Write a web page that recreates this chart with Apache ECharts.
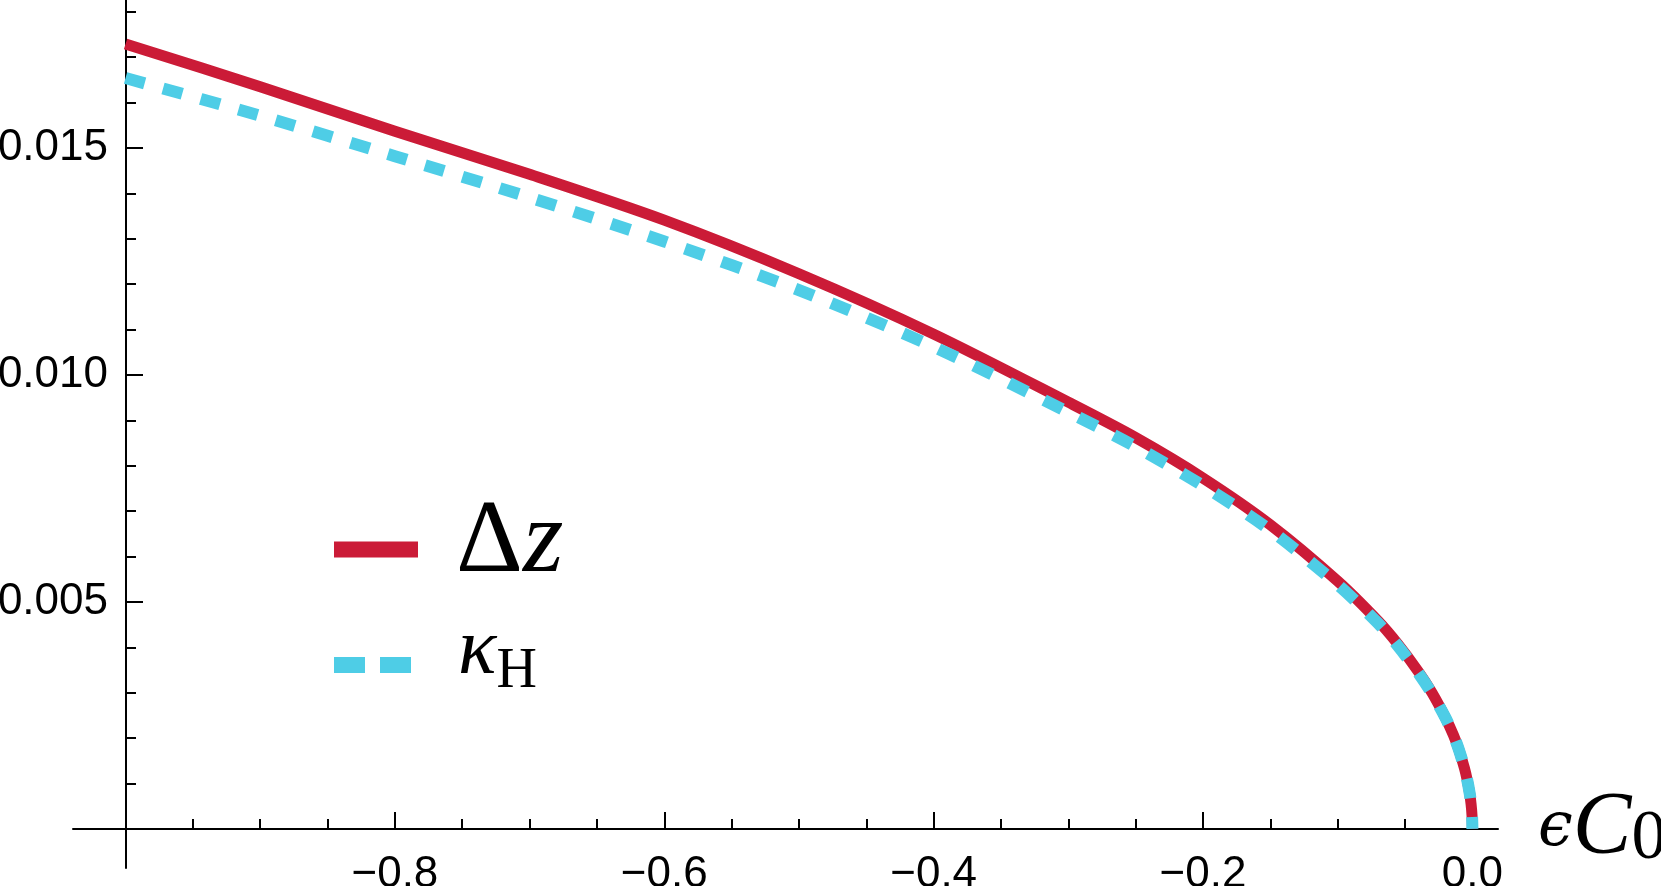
<!DOCTYPE html>
<html>
<head>
<meta charset="utf-8">
<script src="https://cdn.jsdelivr.net/npm/echarts@6/dist/echarts.min.js"></script>
<style>
  html, body { margin: 0; padding: 0; background: #fff; }
  #chart { width: 1661px; height: 886px; }
</style>
</head>
<body>
<div id="chart"></div>
<script>
// values
var xs =     [-1.0, -0.9, -0.8, -0.7, -0.6, -0.5, -0.4, -0.3, -0.25, -0.2, -0.15, -0.1, -0.07, -0.055, -0.04, -0.03, -0.02, -0.014, -0.01, -0.006, -0.004, -0.002, -0.001, -0.0003, 0];
var deltaZ = [0.01729, 0.01635, 0.01537, 0.01442, 0.01341, 0.01223, 0.01090, 0.00940, 0.00862, 0.00773, 0.00670, 0.00546, 0.00458, 0.00406, 0.00346, 0.00300, 0.00245, 0.00206, 0.00174, 0.00135, 0.00110, 0.00078, 0.00055, 0.00030, 0];
var kappaH = [0.01654, 0.01571, 0.01482, 0.01391, 0.01294, 0.01187, 0.01062, 0.00918, 0.00842, 0.00756, 0.00658, 0.00538, 0.00453, 0.00402, 0.00343, 0.00298, 0.00245, 0.00206, 0.00174, 0.00135, 0.00110, 0.00078, 0.00055, 0.00030, 0];

var xMajor = [-0.8, -0.6, -0.4, -0.2, 0];
var xMinor = [-0.95, -0.9, -0.85, -0.75, -0.7, -0.65, -0.55, -0.5, -0.45, -0.35, -0.3, -0.25, -0.15, -0.1, -0.05];
var yMajor = [0.005, 0.010, 0.015];
var yMinor = [0.001, 0.002, 0.003, 0.004, 0.006, 0.007, 0.008, 0.009, 0.011, 0.012, 0.013, 0.014, 0.016, 0.017, 0.018];

function pairs(x, y) {
  return x.map(function (v, i) { return [v, y[i]]; });
}

var chart = echarts.init(document.getElementById('chart'));

var xMin = -1.039, xMax = 0.019;
var yMin = -0.00086, yMax = 0.01826;
var black = '#000';

// x axis sits on y = 0, which is 39px above the grid bottom
function xAxisCfg(ticks, len, labels) {
  return {
    type: 'value', min: xMin, max: xMax, position: 'bottom', offset: -39,
    axisLine: { show: labels, onZero: false, lineStyle: { color: black, width: 2 } },
    axisTick: { show: true, inside: true, length: len, customValues: ticks, lineStyle: { color: black, width: 2 } },
    axisLabel: labels ? {
      show: true, customValues: xMajor, margin: 24, hideOverlap: false,
      fontFamily: 'Liberation Sans', fontSize: 44, color: black,
      formatter: function (v) { return v === 0 ? '0.0' : '\u2212' + Math.abs(v).toFixed(1); }
    } : { show: false },
    splitLine: { show: false },
    name: labels ? '{e|\u03f5}{c|C}{s|0}' : '',
    nameLocation: 'end', nameGap: 40,
    nameTextStyle: {
      rich: {
        e: { fontFamily: 'DejaVu Serif', fontStyle: 'italic', fontSize: 62, color: black },
        c: { fontFamily: 'Liberation Serif', fontStyle: 'italic', fontSize: 88, color: black },
        s: { fontFamily: 'Liberation Serif', fontSize: 70, color: black, padding: [22, 0, 0, 0] }
      }
    }
  };
}

// y axis sits on x = -1, 53px right of the grid's left edge
function yAxisCfg(ticks, len, labels) {
  return {
    type: 'value', min: yMin, max: yMax, position: 'left', offset: -53,
    axisLine: { show: labels, onZero: false, lineStyle: { color: black, width: 2 } },
    axisTick: { show: true, inside: true, length: len, customValues: ticks, lineStyle: { color: black, width: 2 } },
    axisLabel: labels ? {
      show: true, customValues: yMajor, margin: 18,
      fontFamily: 'Liberation Sans', fontSize: 44, color: black,
      formatter: function (v) { return v.toFixed(3); }
    } : { show: false },
    splitLine: { show: false }
  };
}

function legendCfg(name, top, dash) {
  return {
    data: [name], left: 321, top: top, orient: 'vertical',
    selectedMode: false, itemWidth: 84, itemHeight: 30,
    itemStyle: { opacity: 0, borderWidth: 0 },
    lineStyle: { width: 16, type: dash, cap: 'butt' },
    formatter: function (n) {
      return n === 'Δz' ? '{d|Δ}{i|z}' : '{k|κ}{h|H}';
    },
    textStyle: {
      color: black,
      rich: {
        d: { fontFamily: 'Liberation Serif', fontSize: 104, color: black, padding: [0, 0, 11, 33] },
        i: { fontFamily: 'Liberation Serif', fontStyle: 'italic', fontSize: 104, color: black, padding: [0, 0, 11, 0] },
        k: { fontFamily: 'Liberation Serif', fontStyle: 'italic', fontSize: 80, color: black, padding: [0, 0, 26, 35] },
        h: { fontFamily: 'Liberation Serif', fontSize: 56, color: black, padding: [15, 0, 0, 0] }
      }
    }
  };
}

chart.setOption({
  animation: false,
  backgroundColor: '#fff',
  grid: { left: 73, right: 163, top: 0, bottom: 18, outerBoundsMode: 'none' },
  xAxis: [xAxisCfg(xMajor, 17, true), xAxisCfg(xMinor, 10, false)],
  yAxis: [yAxisCfg(yMajor, 17, true), yAxisCfg(yMinor, 10, false)],
  legend: [legendCfg('Δz', 487, 'solid'), legendCfg('κH', 607, [31, 15])],
  series: [
    {
      name: 'Δz', type: 'line', data: pairs(xs, deltaZ),
      symbol: 'none', showSymbol: false, smooth: 0.3, clip: true,
      lineStyle: { color: '#CB1B37', width: 11, cap: 'butt', join: 'round' },
      itemStyle: { color: '#CB1B37' }
    },
    {
      name: 'κH', type: 'line', data: pairs(xs, kappaH),
      symbol: 'none', showSymbol: false, smooth: 0.3, clip: true,
      lineStyle: { color: '#4ECDE6', width: 12, type: [20, 19], cap: 'butt', join: 'round' },
      itemStyle: { color: '#4ECDE6' }
    }
  ]
});
</script>
</body>
</html>
